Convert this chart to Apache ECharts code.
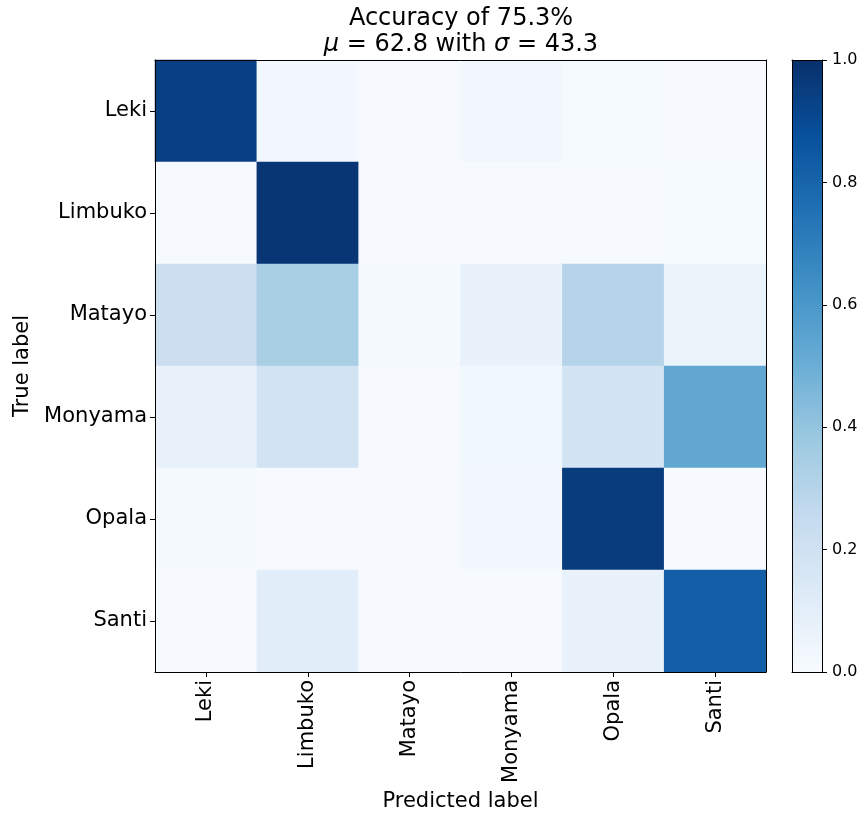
<!DOCTYPE html>
<html><head><meta charset="utf-8">
<script src="https://cdn.jsdelivr.net/npm/echarts@6/dist/echarts.min.js"></script>
<style>html,body{margin:0;padding:0;background:#fff}#c{width:862px;height:814px}</style>
</head><body><div id="c"></div>
<script>
const classes = ['Leki','Limbuko','Matayo','Monyama','Opala','Santi'];
const rowLeki    = [0.94, 0.02, 0.005, 0.03, 0.01, 0.005];
const rowLimbuko = [0.005, 0.98, 0.005, 0.005, 0.005, 0.01];
const rowMatayo  = [0.22, 0.34, 0.015, 0.07, 0.30, 0.06];
const rowMonyama = [0.07, 0.19, 0.005, 0.035, 0.18, 0.53];
const rowOpala   = [0.015, 0.005, 0.005, 0.02, 0.955, 0.005];
const rowSanti   = [0.005, 0.11, 0.005, 0.005, 0.07, 0.82];
const colorbarTicks = [0, 0.2, 0.4, 0.6, 0.8, 1.0];
const blues = ['#f7fbff','#deebf7','#c6dbef','#9ecae1','#6baed6','#4292c6','#2171b5','#08519c','#08306b'];

const rows = [rowLeki,rowLimbuko,rowMatayo,rowMonyama,rowOpala,rowSanti];
const data = [];
rows.forEach((r,i)=>r.forEach((v,j)=>data.push([j,i,v])));
const font = 'DejaVu Sans';
const chart = echarts.init(document.getElementById('c'));
const frameAxis = {z:10,axisLine:{show:true,onZero:false,lineStyle:{color:'#000'}},axisTick:{show:false},axisLabel:{show:false},splitLine:{show:false}};
chart.setOption({
  backgroundColor:'#fff',
  animation:false,
  title:{
    text:'Accuracy of 75.3%\n{i|μ} = 62.8 with {i|σ} = 43.3',
    left:456, textAlign:'center', top:1,
    textStyle:{fontFamily:font,fontSize:24,fontWeight:'normal',color:'#000',lineHeight:26,
      rich:{i:{fontFamily:font,fontSize:24,fontStyle:'italic',color:'#000'}}}
  },
  grid:[
    {left:155,top:60,width:611,height:612,show:false,outerBoundsMode:'none',containLabel:false},
    {left:792,top:60,width:30,height:612,show:false,outerBoundsMode:'none',containLabel:false}
  ],
  xAxis:[
    {type:'category',gridIndex:0,data:classes,position:'bottom',z:10,
     name:'Predicted label',nameLocation:'middle',nameGap:119,
     nameTextStyle:{fontFamily:font,fontSize:21,color:'#000'},
     axisLine:{show:true,lineStyle:{color:'#000'}},
     axisTick:{show:true,alignWithLabel:true,length:5,lineStyle:{color:'#000'}},
     axisLabel:{rotate:90,fontFamily:font,fontSize:21,color:'#000',margin:8},
     splitLine:{show:false}},
    Object.assign({type:'category',gridIndex:0,data:classes,position:'top'},frameAxis),
    Object.assign({type:'category',gridIndex:1,data:['c'],position:'bottom'},frameAxis),
    Object.assign({type:'category',gridIndex:1,data:['c'],position:'top'},frameAxis)
  ],
  yAxis:[
    {type:'category',gridIndex:0,data:classes,inverse:true,z:10,
     name:'True label',nameLocation:'middle',nameGap:109,
     nameTextStyle:{fontFamily:font,fontSize:21,color:'#000'},
     axisLine:{show:true,lineStyle:{color:'#000'}},
     axisTick:{show:true,alignWithLabel:true,length:5,lineStyle:{color:'#000'}},
     axisLabel:{fontFamily:font,fontSize:21,color:'#000',margin:8},
     splitLine:{show:false}},
    Object.assign({type:'category',gridIndex:0,data:classes,inverse:true,position:'right'},frameAxis),
    {type:'value',gridIndex:1,min:0,max:1,interval:0.2,position:'right',z:10,
     axisLine:{show:true,lineStyle:{color:'#000'}},
     axisTick:{show:true,length:5,lineStyle:{color:'#000'}},
     axisLabel:{fontFamily:font,fontSize:16,color:'#000',margin:10,formatter:v=>v.toFixed(1)},
     splitLine:{show:false}},
    Object.assign({type:'value',gridIndex:1,min:0,max:1,position:'left'},frameAxis)
  ],
  visualMap:{show:false,min:0,max:1,seriesIndex:0,inRange:{color:blues}},
  series:[
    {type:'heatmap',xAxisIndex:0,yAxisIndex:0,data:data,itemStyle:{borderWidth:0},emphasis:{disabled:true},z:1},
    {type:'bar',xAxisIndex:2,yAxisIndex:2,data:[colorbarTicks[colorbarTicks.length-1]],barWidth:'100%',silent:true,z:1,
     itemStyle:{color:new echarts.graphic.LinearGradient(0,0,0,1,
       blues.slice().reverse().map((c,k)=>({offset:k/8,color:c})))}}
  ]
});
</script></body></html>
